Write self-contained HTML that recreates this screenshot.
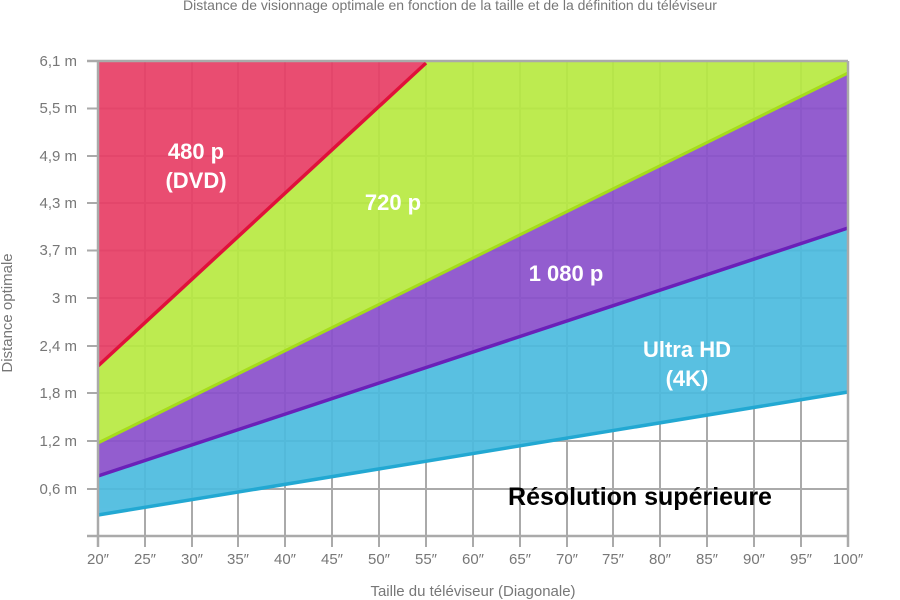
<!DOCTYPE html>
<html><head><meta charset="utf-8"><style>
body{margin:0;background:#fff;}
svg{display:block;font-family:"Liberation Sans","DejaVu Sans",sans-serif;}
</style></head><body>
<svg width="900" height="600" viewBox="0 0 900 600">
<text x="450" y="10" text-anchor="middle" font-size="14" fill="#777">Distance de visionnage optimale en fonction de la taille et de la définition du téléviseur</text>
<g stroke="#aaa" stroke-width="2">
<line x1="145" y1="61" x2="145" y2="547"/><line x1="192" y1="61" x2="192" y2="547"/><line x1="238" y1="61" x2="238" y2="547"/><line x1="285" y1="61" x2="285" y2="547"/><line x1="332" y1="61" x2="332" y2="547"/><line x1="379" y1="61" x2="379" y2="547"/><line x1="426" y1="61" x2="426" y2="547"/><line x1="473" y1="61" x2="473" y2="547"/><line x1="520" y1="61" x2="520" y2="547"/><line x1="567" y1="61" x2="567" y2="547"/><line x1="613" y1="61" x2="613" y2="547"/><line x1="660" y1="61" x2="660" y2="547"/><line x1="707" y1="61" x2="707" y2="547"/><line x1="754" y1="61" x2="754" y2="547"/><line x1="801" y1="61" x2="801" y2="547"/>
<line x1="87" y1="108.5" x2="848" y2="108.5"/><line x1="87" y1="156" x2="848" y2="156"/><line x1="87" y1="203" x2="848" y2="203"/><line x1="87" y1="250.5" x2="848" y2="250.5"/><line x1="87" y1="298" x2="848" y2="298"/><line x1="87" y1="346" x2="848" y2="346"/><line x1="87" y1="393" x2="848" y2="393"/><line x1="87" y1="441" x2="848" y2="441"/><line x1="87" y1="489" x2="848" y2="489"/>
</g>
<g opacity="0.92">
<polygon points="98,61 426,61 98,366" fill="#e83e66"/>
<polygon points="426,61 848,61 848,73 98,443 98,366" fill="#b8ea42"/>
<polygon points="98,443 848,73 848,228 98,476" fill="#8a50cc"/>
<polygon points="98,476 848,228 848,392 98,515" fill="#4cbbdf"/>
</g>
<line x1="98" y1="366" x2="426" y2="63" stroke="#e0103a" stroke-width="3.5"/>
<line x1="98" y1="443" x2="848" y2="73" stroke="#a5dc1a" stroke-width="3"/>
<line x1="98" y1="476" x2="848" y2="228" stroke="#6a20b8" stroke-width="3.5"/>
<line x1="98" y1="515" x2="848" y2="392" stroke="#22a8d2" stroke-width="3.5"/>
<g stroke="#aaa" stroke-width="2.5" fill="none">
<line x1="87" y1="61" x2="848" y2="61"/><line x1="848" y1="61" x2="848" y2="536"/>
<line x1="98" y1="61" x2="98" y2="547"/><line x1="87" y1="536" x2="848" y2="536"/>
<line x1="848" y1="536" x2="848" y2="547"/>
</g>
<g font-size="15" fill="#777" text-anchor="end">
<text x="77" y="66">6,1 m</text><text x="77" y="113">5,5 m</text><text x="77" y="161">4,9 m</text><text x="77" y="208">4,3 m</text><text x="77" y="255">3,7 m</text><text x="77" y="303">3 m</text><text x="77" y="351">2,4 m</text><text x="77" y="398">1,8 m</text><text x="77" y="446">1,2 m</text><text x="77" y="494">0,6 m</text>
</g>
<g font-size="15" fill="#777" text-anchor="middle">
<text x="98" y="564">20″</text><text x="145" y="564">25″</text><text x="192" y="564">30″</text><text x="238" y="564">35″</text><text x="285" y="564">40″</text><text x="332" y="564">45″</text><text x="379" y="564">50″</text><text x="426" y="564">55″</text><text x="473" y="564">60″</text><text x="520" y="564">65″</text><text x="567" y="564">70″</text><text x="613" y="564">75″</text><text x="660" y="564">80″</text><text x="707" y="564">85″</text><text x="754" y="564">90″</text><text x="801" y="564">95″</text><text x="848" y="564">100″</text>
</g>
<text x="473" y="596" text-anchor="middle" font-size="15" fill="#777">Taille du téléviseur (Diagonale)</text>
<text transform="translate(12,313) rotate(-90)" text-anchor="middle" font-size="15" fill="#777">Distance optimale</text>
<g font-weight="bold" fill="#fff" font-size="22" text-anchor="middle">
<text x="196" y="159">480 p</text><text x="196" y="188">(DVD)</text>
<text x="393" y="210">720 p</text>
<text x="566" y="281">1 080 p</text>
<text x="687" y="357">Ultra HD</text><text x="687" y="386">(4K)</text>
</g>
<text x="640" y="505" text-anchor="middle" font-weight="bold" font-size="25" fill="#000">Résolution supérieure</text>
</svg>
</body></html>
